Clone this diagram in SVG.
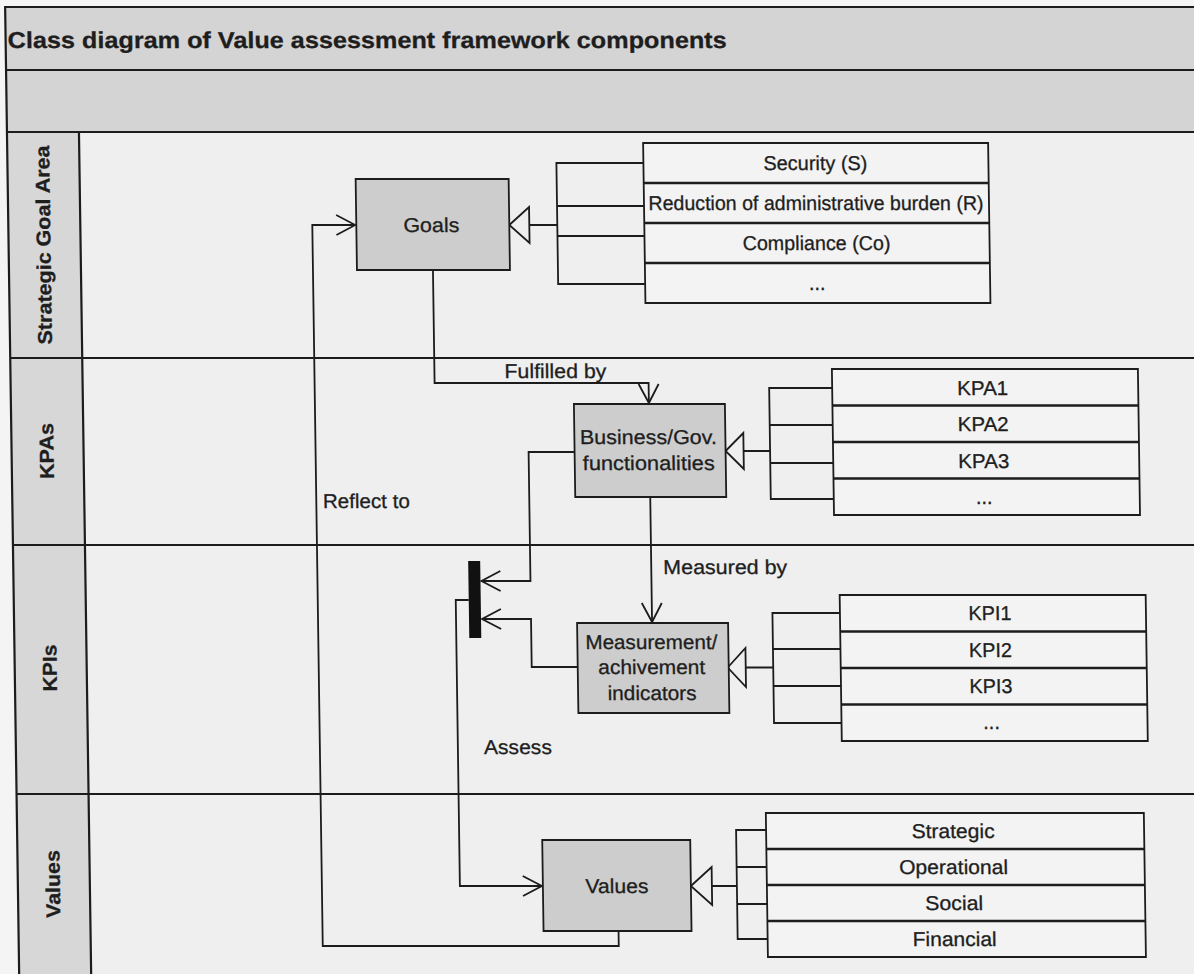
<svg xmlns="http://www.w3.org/2000/svg" width="1194" height="974" viewBox="0 0 1194 974">
<defs>
<style>
.ln{fill:none;stroke:#1c1c1c;stroke-width:1.8}
.fr{fill:none;stroke:#1c1c1c;stroke-width:2.2}
.box{fill:#cdcdcd;stroke:#1c1c1c;stroke-width:1.8}
.attr{fill:#f3f3f3;stroke:#1c1c1c;stroke-width:1.8}
.sep{stroke:#1c1c1c;stroke-width:2.4}
.gen{fill:#efefef;stroke:#1c1c1c;stroke-width:1.8}
text{font-family:"Liberation Sans",Arial,sans-serif;fill:#1e1e1e;stroke:#1e1e1e;stroke-width:0.3}
.t{font-size:20px;text-anchor:middle;dominant-baseline:central}
.b{font-weight:bold}
</style>
<marker id="arr" markerUnits="userSpaceOnUse" viewBox="0 0 22 26" markerWidth="22" markerHeight="26" refX="20" refY="13" orient="auto">
<path d="M1,3 L20,13 L1,23" fill="none" stroke="#1c1c1c" stroke-width="1.8"/>
</marker>
</defs>
<rect width="1194" height="974" fill="#f4f4f4"/>
<g transform="translate(-6.96 0) skewX(0.8308)">
<g id="frame">
<rect x="12" y="7" width="1220" height="125" fill="#d4d4d4"/>
<rect x="12" y="132" width="1220" height="860" fill="#efefef"/>
<rect x="12" y="132" width="72" height="860" fill="#d7d7d7"/>
<path class="fr" d="M12,992 V7 H1232 M12,70 H1232 M12,132 H1232 M12,358 H1232 M12,545 H1232 M12,794 H1232 M84,132 V992"/>
<text x="14" y="40" class="b" style="font-size:23px;dominant-baseline:central" textLength="719" lengthAdjust="spacingAndGlyphs">Class diagram of Value assessment framework components</text>
</g>
<g id="lane-labels">
<text class="t b" x="47" y="245" transform="rotate(-90 47 245)" textLength="199" lengthAdjust="spacingAndGlyphs">Strategic Goal Area</text>
<text class="t b" x="47" y="451" transform="rotate(-90 47 451)" textLength="56" lengthAdjust="spacingAndGlyphs">KPAs</text>
<text class="t b" x="47" y="668" transform="rotate(-90 47 668)" textLength="47" lengthAdjust="spacingAndGlyphs">KPIs</text>
<text class="t b" x="47" y="884" transform="rotate(-90 47 884)" textLength="68" lengthAdjust="spacingAndGlyphs">Values</text>
</g>
<g id="connectors">
<path class="ln" d="M612,931 V946 H316 V225 H359" marker-end="url(#arr)"/>
<path class="ln" d="M436,270 V383 H650 V403" marker-end="url(#arr)"/>
<path class="ln" d="M650,497 V622" marker-end="url(#arr)"/>
<path class="ln" d="M575,452 H529 V581 H480" marker-end="url(#arr)"/>
<path class="ln" d="M575,667 H529 V619 H480" marker-end="url(#arr)"/>
<path class="ln" d="M467,600 H454 V886 H536" marker-end="url(#arr)"/>
<rect x="467" y="561" width="12" height="77" fill="#111"/>
<path class="ln" d="M533,225 H561 M648,163 H561 V284 H648 M561,206 H648 M561,236 H648"/>
<polygon class="gen" points="513,225 533,207 533,243"/>
<path class="ln" d="M744,451 H770.5 M833.5,388 H770.5 V499 H833.5 M770.5,425 H833.5 M770.5,463 H833.5"/>
<polygon class="gen" points="726,451 744,433 744,469"/>
<path class="ln" d="M743,667.5 H770.5 M838,613 H770.5 V723 H838 M770.5,649 H838 M770.5,686 H838"/>
<polygon class="gen" points="725,667.5 743,648 743,687"/>
<path class="ln" d="M706,886 H731 M761,830 H731 V939 H761 M731,867 H761 M731,904 H761"/>
<polygon class="gen" points="685,886 706,867 706,905"/>
<text class="t" x="557" y="371" textLength="102" lengthAdjust="spacingAndGlyphs">Fulfilled by</text>
<text class="t" x="366" y="501" textLength="87" lengthAdjust="spacingAndGlyphs">Reflect to</text>
<text class="t" x="724" y="567" textLength="124" lengthAdjust="spacingAndGlyphs">Measured by</text>
<text class="t" x="514" y="747" textLength="68" lengthAdjust="spacingAndGlyphs">Assess</text>
</g>
<g id="goals">
<rect class="box" x="360" y="179" width="153" height="91"/>
<text class="t" x="435" y="225" textLength="56" lengthAdjust="spacingAndGlyphs">Goals</text>
</g>
<g id="goal-areas">
<rect class="attr" x="648" y="143" width="345" height="160"/>
<path class="sep" d="M648,183 H993 M648,223 H993 M648,263 H993"/>
<text class="t" x="820" y="163" textLength="104" lengthAdjust="spacingAndGlyphs">Security (S)</text>
<text class="t" x="820" y="203" textLength="335" lengthAdjust="spacingAndGlyphs">Reduction of administrative burden (R)</text>
<text class="t" x="820" y="243" textLength="148" lengthAdjust="spacingAndGlyphs">Compliance (Co)</text>
<text class="t" x="820" y="283">...</text>
</g>
<g id="business">
<rect class="box" x="575" y="404" width="151" height="93"/>
<text class="t" x="649" y="437" textLength="137" lengthAdjust="spacingAndGlyphs">Business/Gov.</text>
<text class="t" x="649" y="463" textLength="132" lengthAdjust="spacingAndGlyphs">functionalities</text>
</g>
<g id="kpas">
<rect class="attr" x="833.5" y="369" width="306" height="146"/>
<path class="sep" d="M833.5,405.5 H1139.5 M833.5,442 H1139.5 M833.5,478.5 H1139.5"/>
<text class="t" x="984" y="388" textLength="51" lengthAdjust="spacingAndGlyphs">KPA1</text>
<text class="t" x="984" y="424" textLength="51" lengthAdjust="spacingAndGlyphs">KPA2</text>
<text class="t" x="984" y="461" textLength="51" lengthAdjust="spacingAndGlyphs">KPA3</text>
<text class="t" x="984" y="497">...</text>
</g>
<g id="measurement">
<rect class="box" x="575" y="623" width="151" height="90"/>
<text class="t" x="649" y="642" textLength="132" lengthAdjust="spacingAndGlyphs">Measurement/</text>
<text class="t" x="649" y="667" textLength="107" lengthAdjust="spacingAndGlyphs">achivement</text>
<text class="t" x="649" y="693" textLength="89" lengthAdjust="spacingAndGlyphs">indicators</text>
</g>
<g id="kpis">
<rect class="attr" x="838" y="595" width="306" height="146"/>
<path class="sep" d="M838,631.5 H1144 M838,668 H1144 M838,704.5 H1144"/>
<text class="t" x="988" y="613" textLength="43" lengthAdjust="spacingAndGlyphs">KPI1</text>
<text class="t" x="988" y="650" textLength="43" lengthAdjust="spacingAndGlyphs">KPI2</text>
<text class="t" x="988" y="686" textLength="43" lengthAdjust="spacingAndGlyphs">KPI3</text>
<text class="t" x="988" y="722">...</text>
</g>
<g id="values">
<rect class="box" x="537" y="840" width="148" height="91"/>
<text class="t" x="611" y="886" textLength="63" lengthAdjust="spacingAndGlyphs">Values</text>
</g>
<g id="value-types">
<rect class="attr" x="761" y="813" width="378" height="144"/>
<path class="sep" d="M761,849 H1139 M761,885 H1139 M761,921 H1139"/>
<text class="t" x="948" y="831" textLength="83" lengthAdjust="spacingAndGlyphs">Strategic</text>
<text class="t" x="948" y="867" textLength="109" lengthAdjust="spacingAndGlyphs">Operational</text>
<text class="t" x="948" y="903" textLength="58" lengthAdjust="spacingAndGlyphs">Social</text>
<text class="t" x="948" y="939" textLength="84" lengthAdjust="spacingAndGlyphs">Financial</text>
</g>
</g>
</svg>
